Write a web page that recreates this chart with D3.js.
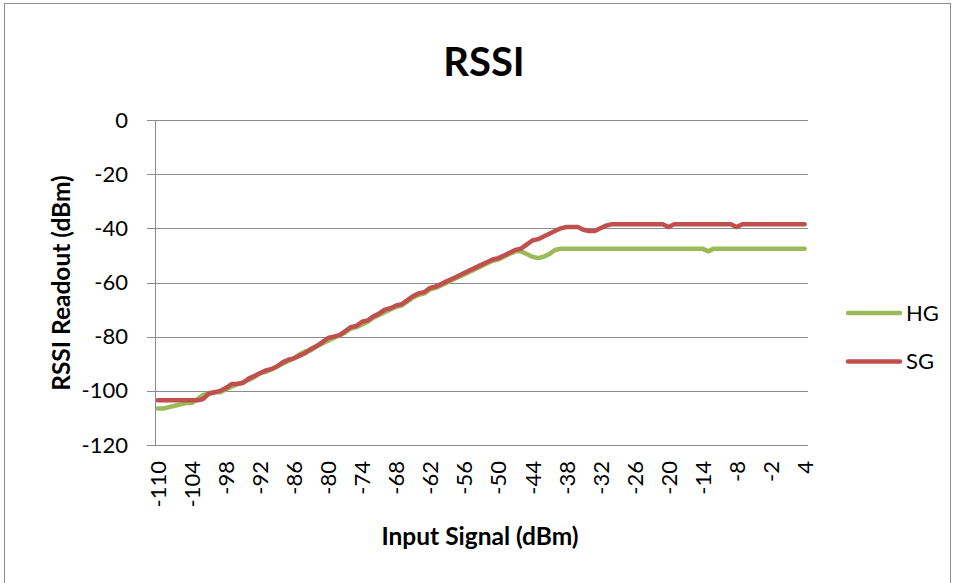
<!DOCTYPE html>
<html>
<head>
<meta charset="utf-8">
<script src="https://cdn.jsdelivr.net/npm/d3@7"></script>
<style>
  body { margin: 0; background: #fff; }
  svg { display: block; font-family: Lato, "Open Sans", sans-serif; }
</style>
</head>
<body>
<div id="chart"></div>
<script>
'use strict';

// input signal, -110 .. 4 dBm in 1 dB steps
var inputSignal = [
  -110,-109,-108,-107,-106,-105,-104,-103,-102,-101,
  -100,-99,-98,-97,-96,-95,-94,-93,-92,-91,
  -90,-89,-88,-87,-86,-85,-84,-83,-82,-81,
  -80,-79,-78,-77,-76,-75,-74,-73,-72,-71,
  -70,-69,-68,-67,-66,-65,-64,-63,-62,-61,
  -60,-59,-58,-57,-56,-55,-54,-53,-52,-51,
  -50,-49,-48,-47,-46,-45,-44,-43,-42,-41,
  -40,-39,-38,-37,-36,-35,-34,-33,-32,-31,
  -30,-29,-28,-27,-26,-25,-24,-23,-22,-21,
  -20,-19,-18,-17,-16,-15,-14,-13,-12,-11,
  -10,-9,-8,-7,-6,-5,-4,-3,-2,-1,
  0,1,2,3,4
];

var hgValues = [
  -106.5,-106.5,-106,-105.5,-105,-104.5,-104.5,-103,-101.5,-101,
  -100.5,-100.5,-99.5,-98.5,-97.5,-97,-96,-95,-93.5,-93,
  -92,-91,-90,-89,-88,-86.5,-85.5,-85,-83.5,-82.5,
  -81.5,-80.5,-79.5,-78.5,-77,-76.5,-75.5,-74.5,-73,-72,
  -71,-70,-69,-68.5,-67,-65.5,-64.5,-64,-62.5,-62,
  -61,-60,-59,-58,-57,-56,-55,-54,-53,-52,
  -51.5,-50.5,-49.5,-48.5,-48.5,-49.5,-50.5,-51,-50.5,-49.5,
  -48,-47.5,-47.5,-47.5,-47.5,-47.5,-47.5,-47.5,-47.5,-47.5,
  -47.5,-47.5,-47.5,-47.5,-47.5,-47.5,-47.5,-47.5,-47.5,-47.5,
  -47.5,-47.5,-47.5,-47.5,-47.5,-47.5,-47.5,-48.5,-47.5,-47.5,
  -47.5,-47.5,-47.5,-47.5,-47.5,-47.5,-47.5,-47.5,-47.5,-47.5,
  -47.5,-47.5,-47.5,-47.5,-47.5
];

var sgValues = [
  -103.5,-103.5,-103.5,-103.5,-103.5,-103.5,-103.5,-103.5,-103,-101,
  -100.5,-100,-99,-97.5,-97.5,-97,-95.5,-94.5,-93.5,-92.5,
  -92,-91,-89.5,-88.5,-88,-87,-86,-84.5,-83.5,-82,
  -80.5,-80,-79.5,-78,-76.5,-76,-74.5,-74,-72.5,-71.5,
  -70,-69.5,-68.5,-68,-66.5,-65,-64,-63.5,-62,-61.5,
  -60.5,-59.5,-58.5,-57.5,-56.5,-55.5,-54.5,-53.5,-52.5,-51.5,
  -51,-50,-49,-48,-47.5,-46,-44.5,-44,-43,-42,
  -41,-40,-39.5,-39.5,-39.5,-40.5,-41,-41,-40,-39,
  -38.5,-38.5,-38.5,-38.5,-38.5,-38.5,-38.5,-38.5,-38.5,-38.5,
  -39.5,-38.5,-38.5,-38.5,-38.5,-38.5,-38.5,-38.5,-38.5,-38.5,
  -38.5,-38.5,-39.5,-38.5,-38.5,-38.5,-38.5,-38.5,-38.5,-38.5,
  -38.5,-38.5,-38.5,-38.5,-38.5
];

var yTicks = [0, -20, -40, -60, -80, -100, -120];
var xTickLabels = [-110,-104,-98,-92,-86,-80,-74,-68,-62,-56,-50,-44,-38,-32,-26,-20,-14,-8,-2,4];

var seriesNames = ['HG', 'SG'];
var seriesColors = ['#9BBB59', '#C0504D'];

var chart = {};
chart.w = 957;
chart.h = 583;
chart.plot = {left: 155, right: 807.5, top: 120, bottom: 445};
chart.gridColor = '#8c8c8c';

var svg = d3.select('#chart').append('svg')
    .attr('width', chart.w)
    .attr('height', chart.h);

// outer chart border
svg.append('rect')
    .attr('x', 4.5).attr('y', 3.5)
    .attr('width', 946).attr('height', 700)
    .attr('fill', '#fff')
    .attr('stroke', '#8c8c8c')
    .attr('stroke-width', 1);

var x = d3.scalePoint()
    .domain(inputSignal)
    .range([chart.plot.left, chart.plot.right])
    .padding(0.5);

var y = d3.scaleLinear()
    .domain([-120, 0])
    .range([chart.plot.bottom, chart.plot.top]);

// gridlines + y axis (plain hyphen labels like the original)
var yAxis = d3.axisLeft(y)
    .tickValues(yTicks)
    .tickSize(-(chart.plot.right - chart.plot.left))
    .tickPadding(27)
    .tickFormat(function(d){ return String(d); });

var gy = svg.append('g')
    .attr('transform', 'translate(' + chart.plot.left + ',0)')
    .call(yAxis);
gy.select('.domain').remove();
gy.selectAll('.tick line')
    .attr('x1', -8)
    .attr('stroke', chart.gridColor)
    .attr('shape-rendering', 'crispEdges');
gy.selectAll('.tick text')
    .attr('fill', '#000')
    .attr('font-size', 22)
    .attr('font-family', 'Lato, sans-serif');

// y axis line
svg.append('line')
    .attr('x1', chart.plot.left).attr('x2', chart.plot.left)
    .attr('y1', chart.plot.top).attr('y2', chart.plot.bottom)
    .attr('stroke', chart.gridColor)
    .attr('shape-rendering', 'crispEdges');

// x axis
var xAxis = d3.axisBottom(x)
    .tickValues(xTickLabels)
    .tickSize(0)
    .tickPadding(0)
    .tickFormat(function(d){ return String(d); });

var gx = svg.append('g')
    .attr('transform', 'translate(0,' + chart.plot.bottom + ')')
    .call(xAxis);
gx.select('.domain')
    .attr('d', 'M' + chart.plot.left + ',0H' + chart.plot.right)
    .attr('stroke', chart.gridColor)
    .attr('shape-rendering', 'crispEdges');
gx.selectAll('.tick text')
    .attr('fill', '#000')
    .attr('font-size', 22)
    .attr('font-family', 'Lato, sans-serif')
    .attr('text-anchor', 'end')
    .attr('transform', 'rotate(-90)')
    .attr('x', -16)
    .attr('y', 0)
    .attr('dy', '0.35em');

// lines
var line = d3.line()
    .x(function(d){ return x(d[0]); })
    .y(function(d){ return y(d[1]); });

var allSeries = [hgValues, sgValues];
allSeries.forEach(function(vals, i){
    var pts = inputSignal.map(function(v, j){ return [v, vals[j]]; });
    svg.append('path')
        .datum(pts)
        .attr('d', line)
        .attr('fill', 'none')
        .attr('stroke', seriesColors[i])
        .attr('stroke-width', 4.5)
        .attr('stroke-linejoin', 'round')
        .attr('stroke-linecap', 'round');
});

// title
svg.append('text')
    .attr('x', 484).attr('y', 76)
    .attr('text-anchor', 'middle')
    .attr('font-size', 40)
    .attr('font-weight', 'bold')
    .text('RSSI');

// axis titles
svg.append('text')
    .attr('x', 480).attr('y', 545)
    .attr('text-anchor', 'middle')
    .attr('font-size', 24.5)
    .attr('font-weight', 'bold')
    .text('Input Signal (dBm)');

svg.append('text')
    .attr('transform', 'translate(70,283) rotate(-90)')
    .attr('text-anchor', 'middle')
    .attr('font-size', 24.5)
    .attr('font-weight', 'bold')
    .text('RSSI Readout (dBm)');

// legend
var legend = svg.append('g');
seriesNames.forEach(function(name, i){
    var ly = 313 + i * 48.5;
    legend.append('line')
        .attr('x1', 848).attr('x2', 900)
        .attr('y1', ly).attr('y2', ly)
        .attr('stroke', seriesColors[i])
        .attr('stroke-width', 4.5)
        .attr('stroke-linecap', 'round');
    legend.append('text')
        .attr('x', 906).attr('y', ly)
        .attr('dy', '0.36em')
        .attr('font-size', 22)
        .text(name);
});
</script>
</body>
</html>
